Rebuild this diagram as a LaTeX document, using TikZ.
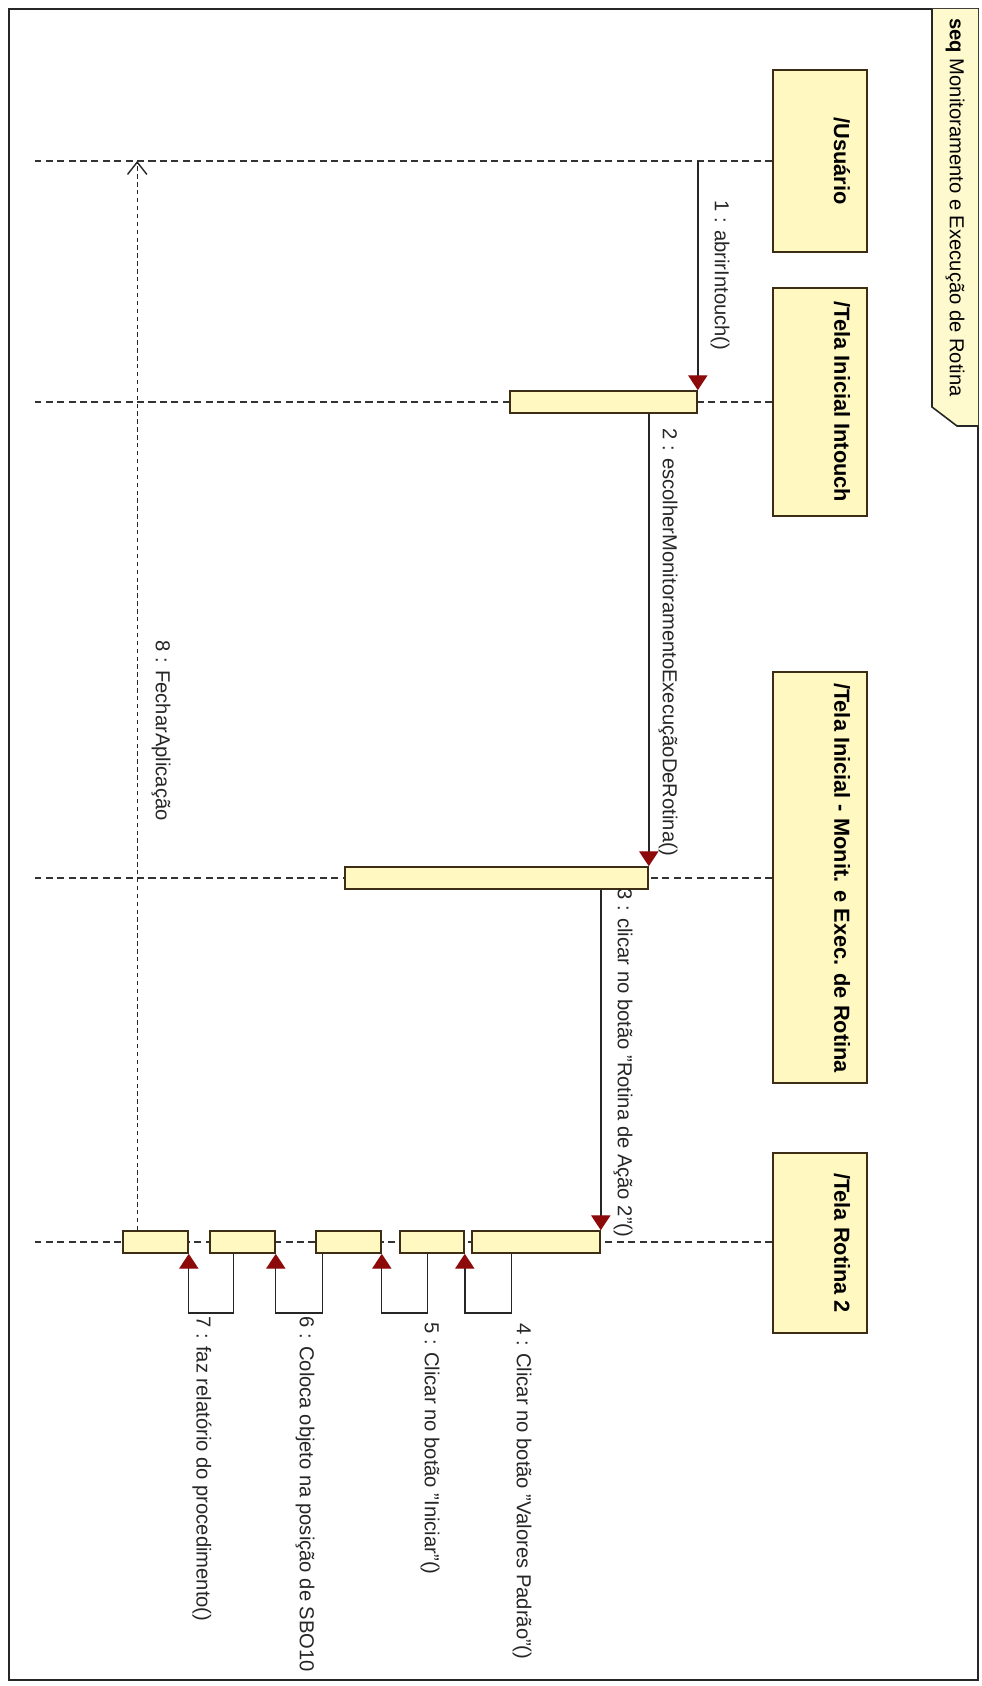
\documentclass[tikz,border=0pt]{standalone}
\usepackage{fontspec}
\setmainfont{Liberation Sans}
\usetikzlibrary{arrows.meta,fit,calc}
\definecolor{boxfill}{RGB}{255,248,192}
\definecolor{boxline}{RGB}{60,45,20}
\definecolor{arrred}{RGB}{140,10,10}
\definecolor{tabfill}{RGB}{255,250,205}
\begin{document}
\begin{tikzpicture}[x=0.02cm,y=-0.02cm,
  headbox/.style={draw=boxline, fill=boxfill, line width=0.9pt, inner sep=0pt},
  actbar/.style={draw=boxline, fill=boxfill, line width=0.9pt, inner sep=0pt},
  headtext/.style={rotate=-90, font=\fontsize{12.4}{15}\selectfont\bfseries, inner sep=0pt},
  msglabel/.style={rotate=-90, anchor=west, font=\fontsize{11.5}{14}\selectfont, inner sep=0pt, text=black!85},
  lifeline/.style={draw=black!80, line width=0.8pt, dash pattern=on 4pt off 2.5pt},
  msg/.style={draw=black!85, line width=0.8pt, -{Triangle[width=11pt,length=8.5pt,fill=arrred,color=arrred]}},
  selfmsg/.style={draw=black!85, line width=0.8pt, -{Triangle[width=11pt,length=8.5pt,fill=arrred,color=arrred]}},
  reply/.style={draw=black!85, line width=0.8pt, dash pattern=on 2.5pt off 2pt, -{Straight Barb[width=11pt,length=7pt]}},
  framebox/.style={draw=black!85, line width=1.1pt, inner sep=0pt},
]
\useasboundingbox (0,0) rectangle (981,1686);

% frame
\node[framebox, fit={(9,9)(978,1680)}] (frame) {};
\fill[tabfill] (932,9) -- (932,407) -- (957,426) -- (978,426) -- (978,9) -- cycle;
\draw[draw=black!85, line width=0.9pt] (932,9) -- (932,407) -- (957,426) -- (978,426);
\node[rotate=-90, anchor=west, inner sep=0pt, font=\fontsize{11.5}{14}\selectfont] (title) at (955,18) {\textbf{seq} Monitoramento e Execução de Rotina};

% lifeline heads
\node[headbox, fit={(773,70)(867,252)}] (u) {};
\node[headbox, fit={(773,288)(867,516)}] (ti) {};
\node[headbox, fit={(773,672)(867,1083)}] (tm) {};
\node[headbox, fit={(773,1153)(867,1333)}] (tr) {};
\node[headtext] (ut) at (842,161) {/Usuário};
\node[headtext] (tit) at (842,402) {/Tela Inicial Intouch};
\node[headtext] (tmt) at (842,878) {/Tela Inicial - Monit. e Exec. de Rotina};
\node[headtext] (trt) at (842,1243) {/Tela Rotina 2};

% lifelines
\coordinate (ue) at (35,161);
\coordinate (tie) at (35,402);
\coordinate (tme) at (35,878);
\coordinate (tre) at (35,1242);
\draw[lifeline] (u.west |- ue) -- (ue);
\draw[lifeline] (ti.west |- tie) -- (tie);
\draw[lifeline] (tm.west |- tme) -- (tme);
\draw[lifeline] (tr.west |- tre) -- (tre);

% activation bars
\node[actbar, fit={(510,391)(697,413)}] (ib) {};
\node[actbar, fit={(345,867)(648,889)}] (mb) {};
\node[actbar, fit={(472,1231)(600,1253)}] (r1) {};
\node[actbar, fit={(400,1231)(464,1253)}] (r2) {};
\node[actbar, fit={(316,1231)(381,1253)}] (r3) {};
\node[actbar, fit={(210,1231)(275,1253)}] (r4) {};
\node[actbar, fit={(123,1231)(188,1253)}] (r5) {};

% messages
\draw[msg] (ib.north east |- ue) -- (ib.north east);
\draw[msg] (mb.north east |- ib.south) -- (mb.north east);
\draw[msg] (r1.north east |- mb.south) -- (r1.north east);
\draw[selfmsg] ($(r1.south west)+(40,0)$) -- ++(0,59) -| (r2.south east);
\draw[selfmsg] ($(r2.south west)+(28,0)$) -- ++(0,59) -| (r3.south east);
\draw[selfmsg] ($(r3.south west)+(7,0)$) -- ++(0,59) -| (r4.south east);
\draw[selfmsg] ($(r4.south west)+(24,0)$) -- ++(0,59) -| (r5.south east);
\coordinate (m8s) at ($(r5.north west)+(15,0)$);
\draw[reply] (m8s) -- (m8s |- ue);

% labels
\node[msglabel] (l1) at (720,200) {1 : abrirIntouch()};
\node[msglabel] (l2) at (668,428) {2 : escolherMonitoramentoExecuçãoDeRotina()};
\node[msglabel] (l3) at (623,888) {3 : clicar no botão "Rotina de Ação 2"()};
\node[msglabel] (l4) at (522,1323) {4 : Clicar no botão "Valores Padrão"()};
\node[msglabel] (l5) at (430,1322) {5 : Clicar no botão "Iniciar"()};
\node[msglabel] (l6) at (305,1316) {6 : Coloca objeto na posição de SBO10};
\node[msglabel] (l7) at (202,1316) {7 : faz relatório do procedimento()};
\node[msglabel] (l8) at (161,640) {8 : FecharAplicação};
\end{tikzpicture}
\end{document}
